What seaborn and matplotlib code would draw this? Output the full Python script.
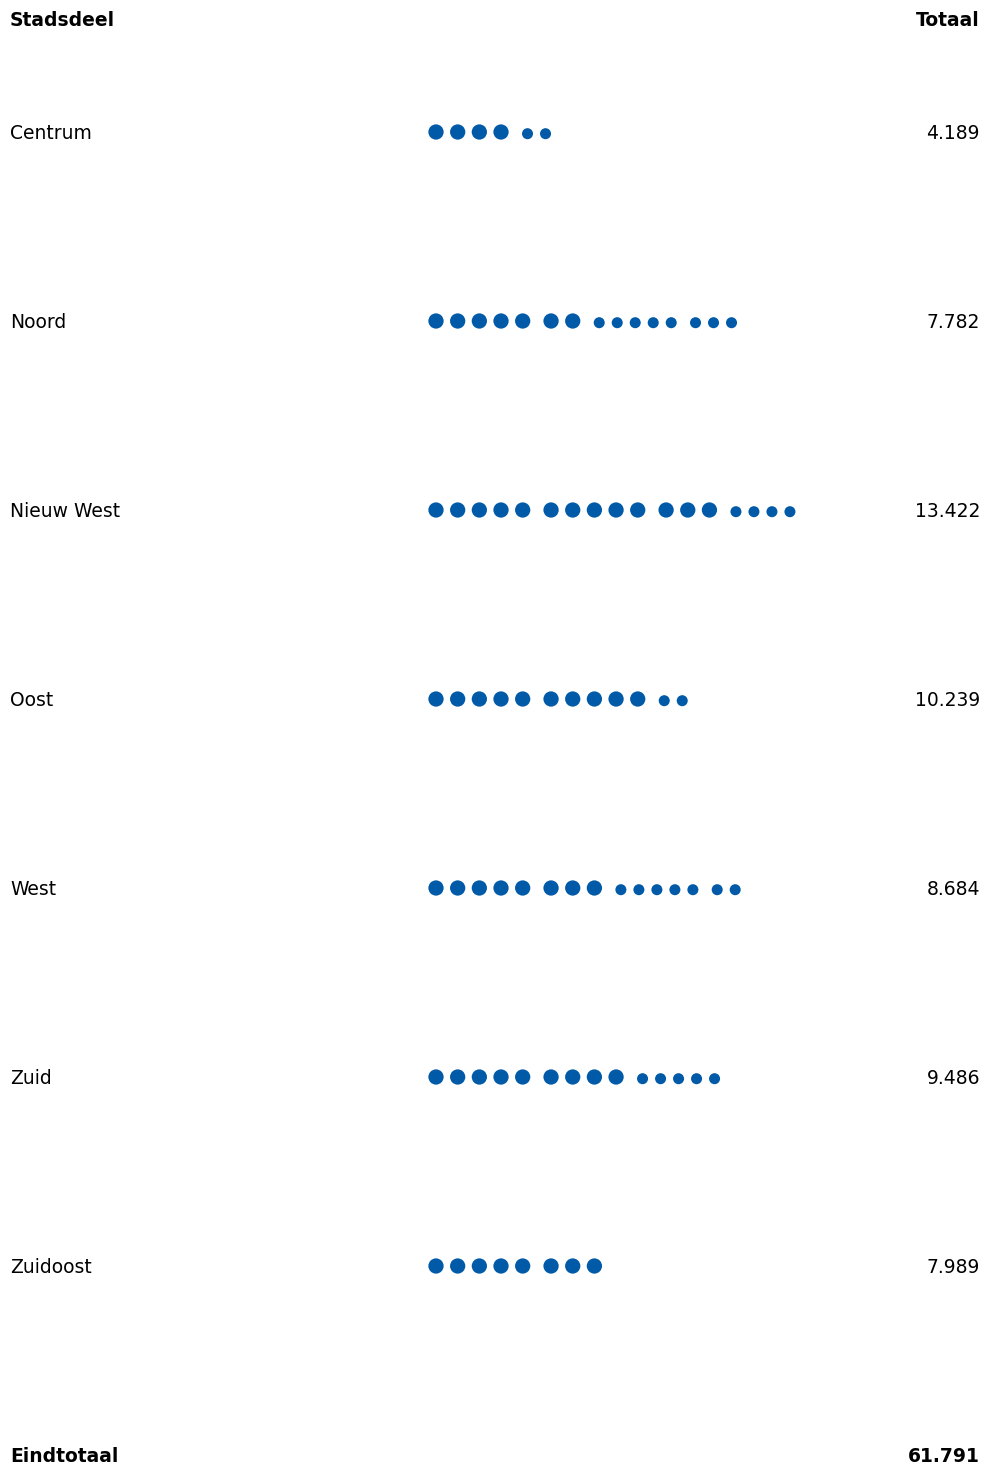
import matplotlib.pyplot as plt
import pandas as pd
import seaborn as sns

# data
stadsdelen = ['Centrum', 'Noord', 'Nieuw West', 'Oost', 'West', 'Zuid', 'Zuidoost']
totalen = [4189, 7782, 13422, 10239, 8684, 9486, 7989]
kop_links = 'Stadsdeel'
kop_rechts = 'Totaal'
voet_label = 'Eindtotaal'

blauw = '#005AA7'


def nl(n):
    return f'{n:,}'.replace(',', '.')


# groot bolletje = 1.000, klein bolletje = 100 (afgerond), in groepjes van 5
punten = []
for i, (naam, tot) in enumerate(zip(stadsdelen, totalen)):
    groot, klein = divmod(round(tot / 100), 10)
    y = 132 + 189 * i
    x = 436
    for k in range(groot):
        if k and k % 5 == 0:
            x += 6.7
        punten.append({'x': x, 'y': y, 'soort': 'groot'})
        x += 21.67
    x += 26.5 - 21.67
    for k in range(klein):
        if k and k % 5 == 0:
            x += 6.3
        punten.append({'x': x, 'y': y + 1.7, 'soort': 'klein'})
        x += 18
df = pd.DataFrame(punten)

sns.set_style('white', rc={'text.color': 'black'})
plt.rcParams['font.family'] = ['DejaVu Sans']

fig = plt.figure(figsize=(9.86, 14.7), dpi=100)
ax = fig.add_axes([0, 0, 1, 1])
sns.scatterplot(data=df, x='x', y='y', size='soort',
                sizes={'groot': 121, 'klein': 63}, color=blauw,
                linewidth=0, legend=False, ax=ax)
ax.set_xlim(0, 986)
ax.set_ylim(1470, 0)
ax.axis('off')

fs = 13.5
ax.text(10, 20, kop_links, fontsize=fs, fontweight='bold', va='center')
ax.text(980, 20, kop_rechts, fontsize=fs, fontweight='bold', va='center', ha='right')
for i, (naam, tot) in enumerate(zip(stadsdelen, totalen)):
    y = 133.5 + 189 * i
    ax.text(10, y, naam, fontsize=fs, va='center')
    ax.text(980, y, nl(tot), fontsize=fs, va='center', ha='right')
ax.text(10, 1456, voet_label, fontsize=fs, fontweight='bold', va='center')
ax.text(980, 1456, nl(sum(totalen)), fontsize=fs, fontweight='bold', va='center', ha='right')

fig.savefig('out.png', dpi=100, facecolor='white')
